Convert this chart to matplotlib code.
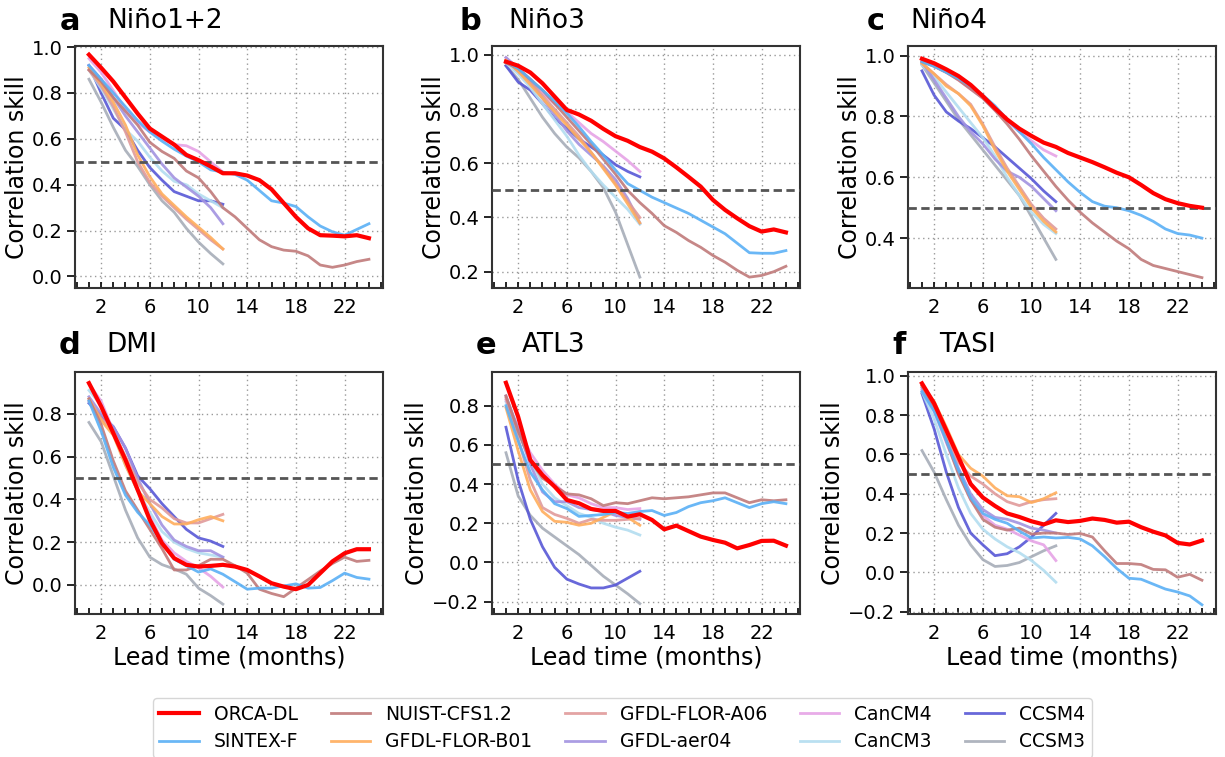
import matplotlib
matplotlib.use('Agg')
import matplotlib.pyplot as plt
import numpy as np

# lead times
lead_long = np.arange(1, 25)
lead_short = np.arange(1, 13)

models = ['ORCA-DL', 'SINTEX-F', 'NUIST-CFS1.2', 'GFDL-FLOR-B01', 'GFDL-FLOR-A06',
          'GFDL-aer04', 'CanCM4', 'CanCM3', 'CCSM4', 'CCSM3']
long_models = ['ORCA-DL', 'SINTEX-F', 'NUIST-CFS1.2']
colors = ['#ff0000', '#5ab0f5', '#c07a7a', '#ffad5c', '#e09a9a',
          '#a293e0', '#e6a3e6', '#b3ddf0', '#5858d6', '#a7adb8']

panel_letters = ['a', 'b', 'c', 'd', 'e', 'f']
panel_names = ['Niño1+2', 'Niño3', 'Niño4', 'DMI', 'ATL3', 'TASI']

# ---- Niño1+2 ----
nino12 = {
    'ORCA-DL': [0.967, 0.91, 0.85, 0.78, 0.71, 0.645, 0.61, 0.575, 0.53, 0.507, 0.48, 0.45,
                0.45, 0.44, 0.42, 0.38, 0.32, 0.26, 0.21, 0.18, 0.178, 0.175, 0.18, 0.167],
    'SINTEX-F': [0.92, 0.86, 0.80, 0.74, 0.68, 0.63, 0.59, 0.555, 0.525, 0.50, 0.465, 0.455,
                 0.445, 0.42, 0.375, 0.33, 0.32, 0.305, 0.26, 0.22, 0.195, 0.18, 0.205, 0.23],
    'NUIST-CFS1.2': [0.90, 0.85, 0.78, 0.72, 0.66, 0.585, 0.545, 0.515, 0.46, 0.43, 0.37, 0.30,
                     0.26, 0.21, 0.16, 0.13, 0.115, 0.11, 0.09, 0.05, 0.04, 0.05, 0.065, 0.075],
    'GFDL-FLOR-B01': [0.91, 0.84, 0.76, 0.66, 0.53, 0.435, 0.36, 0.31, 0.26, 0.215, 0.17, 0.12],
    'GFDL-FLOR-A06': [0.90, 0.83, 0.74, 0.63, 0.50, 0.41, 0.35, 0.30, 0.25, 0.205, 0.16, 0.12],
    'GFDL-aer04': [0.92, 0.86, 0.78, 0.70, 0.63, 0.56, 0.49, 0.43, 0.39, 0.35, 0.30, 0.23],
    'CanCM4': [0.95, 0.89, 0.81, 0.73, 0.67, 0.63, 0.60, 0.575, 0.57, 0.545, 0.50, 0.455],
    'CanCM3': [0.90, 0.82, 0.73, 0.64, 0.59, 0.52, 0.46, 0.415, 0.40, 0.36, 0.33, 0.30],
    'CCSM4': [0.92, 0.80, 0.69, 0.64, 0.55, 0.475, 0.42, 0.37, 0.35, 0.33, 0.33, 0.315],
    'CCSM3': [0.86, 0.76, 0.65, 0.55, 0.48, 0.40, 0.33, 0.28, 0.21, 0.15, 0.10, 0.055],
}

# ---- Niño3 ----
nino3 = {
    'ORCA-DL': [0.975, 0.96, 0.935, 0.895, 0.846, 0.797, 0.78, 0.757, 0.727, 0.70, 0.683, 0.66,
                0.643, 0.618, 0.585, 0.55, 0.514, 0.465, 0.428, 0.397, 0.368, 0.348, 0.356, 0.345],
    'SINTEX-F': [0.975, 0.95, 0.91, 0.87, 0.83, 0.785, 0.735, 0.68, 0.63, 0.575, 0.525, 0.50,
                 0.475, 0.455, 0.435, 0.415, 0.39, 0.365, 0.34, 0.305, 0.27, 0.268, 0.268, 0.278],
    'NUIST-CFS1.2': [0.97, 0.95, 0.91, 0.87, 0.82, 0.77, 0.72, 0.67, 0.615, 0.56, 0.50, 0.455,
                     0.415, 0.37, 0.345, 0.315, 0.29, 0.26, 0.235, 0.205, 0.18, 0.186, 0.20, 0.22],
    'GFDL-FLOR-B01': [0.98, 0.94, 0.89, 0.84, 0.79, 0.74, 0.69, 0.64, 0.58, 0.52, 0.45, 0.38],
    'GFDL-FLOR-A06': [0.98, 0.94, 0.90, 0.85, 0.80, 0.75, 0.70, 0.64, 0.585, 0.525, 0.46, 0.40],
    'GFDL-aer04': [0.99, 0.95, 0.90, 0.84, 0.78, 0.72, 0.67, 0.63, 0.59, 0.54, 0.47, 0.38],
    'CanCM4': [0.99, 0.95, 0.91, 0.86, 0.82, 0.79, 0.75, 0.71, 0.68, 0.645, 0.61, 0.57],
    'CanCM3': [0.97, 0.93, 0.88, 0.82, 0.76, 0.70, 0.63, 0.57, 0.52, 0.475, 0.43, 0.375],
    'CCSM4': [0.96, 0.90, 0.87, 0.82, 0.765, 0.73, 0.69, 0.66, 0.63, 0.595, 0.57, 0.55],
    'CCSM3': [0.96, 0.91, 0.84, 0.77, 0.71, 0.66, 0.62, 0.57, 0.51, 0.42, 0.30, 0.18],
}

# ---- Niño4 ----
nino4 = {
    'ORCA-DL': [0.99, 0.975, 0.955, 0.933, 0.904, 0.867, 0.827, 0.79, 0.76, 0.736, 0.714, 0.70,
                0.68, 0.665, 0.65, 0.633, 0.615, 0.60, 0.575, 0.548, 0.528, 0.515, 0.506, 0.50],
    'SINTEX-F': [0.98, 0.965, 0.945, 0.925, 0.90, 0.87, 0.835, 0.79, 0.75, 0.71, 0.665, 0.625,
                 0.585, 0.55, 0.52, 0.505, 0.50, 0.49, 0.475, 0.455, 0.43, 0.415, 0.41, 0.40],
    'NUIST-CFS1.2': [0.98, 0.965, 0.945, 0.92, 0.89, 0.86, 0.82, 0.775, 0.725, 0.67, 0.62, 0.57,
                     0.525, 0.485, 0.45, 0.42, 0.39, 0.365, 0.33, 0.31, 0.30, 0.29, 0.28, 0.27],
    'GFDL-FLOR-B01': [0.975, 0.94, 0.90, 0.875, 0.835, 0.77, 0.69, 0.62, 0.56, 0.50, 0.455, 0.42],
    'GFDL-FLOR-A06': [0.975, 0.94, 0.905, 0.875, 0.84, 0.775, 0.70, 0.63, 0.57, 0.51, 0.465, 0.43],
    'GFDL-aer04': [0.98, 0.92, 0.86, 0.80, 0.75, 0.71, 0.66, 0.62, 0.60, 0.57, 0.53, 0.49],
    'CanCM4': [0.985, 0.965, 0.945, 0.92, 0.89, 0.86, 0.82, 0.785, 0.75, 0.72, 0.69, 0.67],
    'CanCM3': [0.97, 0.93, 0.88, 0.83, 0.78, 0.73, 0.67, 0.60, 0.54, 0.485, 0.445, 0.415],
    'CCSM4': [0.95, 0.87, 0.815, 0.785, 0.76, 0.73, 0.70, 0.665, 0.63, 0.595, 0.555, 0.52],
    'CCSM3': [0.97, 0.91, 0.85, 0.79, 0.74, 0.69, 0.64, 0.59, 0.54, 0.47, 0.40, 0.33],
}

# ---- DMI ----
dmi = {
    'ORCA-DL': [0.944, 0.835, 0.71, 0.585, 0.445, 0.304, 0.195, 0.125, 0.094, 0.086, 0.089, 0.094,
                0.086, 0.07, 0.04, 0.008, -0.008, -0.02, 0.0, 0.055, 0.11, 0.148, 0.167, 0.167],
    'SINTEX-F': [0.86, 0.72, 0.55, 0.42, 0.34, 0.28, 0.20, 0.12, 0.09, 0.06, 0.075, 0.05,
                 0.015, -0.02, -0.015, -0.015, -0.005, 0.005, -0.015, -0.012, 0.02, 0.055, 0.035, 0.027],
    'NUIST-CFS1.2': [0.87, 0.75, 0.58, 0.44, 0.35, 0.26, 0.17, 0.07, 0.07, 0.09, 0.12, 0.12,
                     0.09, 0.055, -0.02, -0.04, -0.055, -0.015, 0.025, 0.065, 0.10, 0.13, 0.11, 0.115],
    'GFDL-FLOR-B01': [0.87, 0.77, 0.70, 0.56, 0.44, 0.38, 0.32, 0.285, 0.285, 0.305, 0.32, 0.30],
    'GFDL-FLOR-A06': [0.86, 0.78, 0.72, 0.60, 0.48, 0.40, 0.36, 0.31, 0.29, 0.29, 0.31, 0.33],
    'GFDL-aer04': [0.88, 0.80, 0.74, 0.64, 0.50, 0.38, 0.28, 0.21, 0.18, 0.16, 0.16, 0.13],
    'CanCM4': [0.94, 0.86, 0.72, 0.58, 0.45, 0.32, 0.21, 0.15, 0.11, 0.08, 0.04, -0.01],
    'CanCM3': [0.91, 0.84, 0.71, 0.56, 0.44, 0.34, 0.25, 0.20, 0.17, 0.15, 0.14, 0.13],
    'CCSM4': [0.85, 0.79, 0.74, 0.64, 0.51, 0.45, 0.38, 0.32, 0.26, 0.22, 0.205, 0.18],
    'CCSM3': [0.76, 0.67, 0.51, 0.35, 0.22, 0.13, 0.095, 0.075, 0.05, -0.015, -0.05, -0.09],
}

# ---- ATL3 ----
atl3 = {
    'ORCA-DL': [0.917, 0.744, 0.523, 0.446, 0.387, 0.319, 0.302, 0.273, 0.263, 0.263, 0.234, 0.246,
                0.217, 0.169, 0.188, 0.16, 0.132, 0.115, 0.101, 0.072, 0.089, 0.11, 0.111, 0.086],
    'SINTEX-F': [0.80, 0.62, 0.46, 0.37, 0.30, 0.275, 0.235, 0.24, 0.245, 0.255, 0.25, 0.26,
                 0.265, 0.24, 0.255, 0.285, 0.305, 0.315, 0.33, 0.305, 0.28, 0.30, 0.31, 0.30],
    'NUIST-CFS1.2': [0.85, 0.67, 0.52, 0.43, 0.39, 0.35, 0.345, 0.325, 0.29, 0.305, 0.30, 0.315,
                     0.33, 0.325, 0.33, 0.335, 0.345, 0.355, 0.355, 0.33, 0.305, 0.32, 0.315, 0.32],
    'GFDL-FLOR-B01': [0.79, 0.57, 0.37, 0.26, 0.21, 0.205, 0.19, 0.20, 0.23, 0.26, 0.23, 0.19],
    'GFDL-FLOR-A06': [0.84, 0.63, 0.42, 0.28, 0.245, 0.225, 0.20, 0.22, 0.215, 0.215, 0.22, 0.225],
    'GFDL-aer04': [0.85, 0.68, 0.50, 0.36, 0.31, 0.31, 0.28, 0.27, 0.26, 0.24, 0.23, 0.22],
    'CanCM4': [0.83, 0.69, 0.56, 0.47, 0.40, 0.345, 0.33, 0.30, 0.28, 0.28, 0.27, 0.275],
    'CanCM3': [0.82, 0.66, 0.53, 0.40, 0.33, 0.29, 0.25, 0.23, 0.20, 0.18, 0.165, 0.14],
    'CCSM4': [0.69, 0.42, 0.22, 0.08, -0.025, -0.085, -0.11, -0.13, -0.13, -0.115, -0.08, -0.045],
    'CCSM3': [0.56, 0.34, 0.24, 0.175, 0.13, 0.085, 0.04, -0.015, -0.07, -0.115, -0.16, -0.21],
}

# ---- TASI ----
tasi = {
    'ORCA-DL': [0.962, 0.86, 0.723, 0.586, 0.45, 0.381, 0.338, 0.30, 0.282, 0.26, 0.244, 0.265,
                0.256, 0.262, 0.274, 0.267, 0.253, 0.258, 0.23, 0.207, 0.188, 0.15, 0.142, 0.162],
    'SINTEX-F': [0.92, 0.82, 0.67, 0.52, 0.38, 0.30, 0.27, 0.25, 0.21, 0.175, 0.18, 0.175,
                 0.178, 0.17, 0.135, 0.08, 0.02, -0.03, -0.035, -0.06, -0.085, -0.10, -0.12, -0.165],
    'NUIST-CFS1.2': [0.95, 0.84, 0.67, 0.50, 0.37, 0.27, 0.23, 0.215, 0.225, 0.195, 0.20, 0.20,
                     0.193, 0.198, 0.18, 0.11, 0.045, 0.045, 0.04, 0.015, 0.013, -0.025, -0.01, -0.04],
    'GFDL-FLOR-B01': [0.95, 0.87, 0.74, 0.60, 0.53, 0.49, 0.43, 0.39, 0.385, 0.355, 0.375, 0.405],
    'GFDL-FLOR-A06': [0.95, 0.85, 0.70, 0.56, 0.49, 0.45, 0.40, 0.36, 0.34, 0.36, 0.37, 0.375],
    'GFDL-aer04': [0.94, 0.83, 0.68, 0.53, 0.40, 0.32, 0.28, 0.27, 0.25, 0.225, 0.215, 0.20],
    'CanCM4': [0.93, 0.82, 0.66, 0.51, 0.37, 0.29, 0.24, 0.22, 0.19, 0.16, 0.14, 0.06],
    'CanCM3': [0.92, 0.78, 0.60, 0.43, 0.30, 0.22, 0.17, 0.13, 0.10, 0.06, 0.01, -0.05],
    'CCSM4': [0.91, 0.73, 0.51, 0.33, 0.20, 0.14, 0.085, 0.095, 0.13, 0.18, 0.24, 0.30],
    'CCSM3': [0.62, 0.51, 0.37, 0.24, 0.14, 0.065, 0.03, 0.035, 0.05, 0.08, 0.11, 0.135],
}

panel_data = [nino12, nino3, nino4, dmi, atl3, tasi]
y_limits = [(-0.05, 1.005), (0.14, 1.033), (0.236, 1.032),
            (-0.136, 0.996), (-0.263, 0.972), (-0.212, 1.02)]
y_ticks = [np.arange(0, 1.01, 0.2), np.arange(0.2, 1.01, 0.2), np.arange(0.4, 1.01, 0.2),
           np.arange(0, 0.81, 0.2), np.arange(-0.2, 0.81, 0.2), np.arange(-0.2, 1.01, 0.2)]

# axes rectangles in figure fraction
lefts = [0.0612, 0.4016, 0.7412]
bottoms = [0.6196, 0.1889]
width, height = 0.2514, 0.3197

# letter / title positions (x of letter centre, x of title start, y) in pixels
letter_x = [70, 470, 876, 70, 486, 899]
title_x = [107, 508, 910, 106, 522, 939]
title_y = [21, 21, 21, 345, 345, 345]

fig = plt.figure(figsize=(12.25, 7.57), dpi=100)
W, H = 1225, 757

handles = []
for k, data in enumerate(panel_data):
    ax = fig.add_axes([lefts[k % 3], bottoms[k // 3], width, height])
    # draw others first, ORCA-DL on top
    for name, col in list(zip(models, colors))[::-1]:
        vals = data[name]
        x = lead_long if name in long_models else lead_short
        if name == 'ORCA-DL':
            ln, = ax.plot(x, vals, color=col, lw=3, zorder=5, label=name)
        else:
            ln, = ax.plot(x, vals, color=col, lw=2, alpha=0.9, zorder=3, label=name)
        if k == 0:
            handles.append(ln)
    ax.axhline(0.5, color='#555555', lw=2, ls=(0, (3, 1.6)), zorder=4)

    ax.set_xlim(-0.15, 25.15)
    ax.set_ylim(*y_limits[k])
    ax.set_xticks(np.arange(2, 23, 4))
    ax.set_xticks(np.arange(0, 26, 1), minor=True)
    ax.set_yticks(y_ticks[k])
    ax.set_yticklabels([f"{v:.1f}".replace('-', '\u2212') for v in y_ticks[k]])
    ax.tick_params(axis='x', which='both', direction='in', length=4, width=1.2,
                   labelsize=14, pad=7)
    ax.tick_params(axis='y', which='major', direction='out', length=6, width=1.2,
                   labelsize=14, pad=3)
    ax.tick_params(axis='y', which='minor', left=False)
    ax.grid(True, which='major', linestyle=(0, (1, 2.5)), color='#999999', lw=1)
    for sp in ax.spines.values():
        sp.set_linewidth(1.5)
        sp.set_color('#333333')
    ax.set_ylabel('Correlation skill', fontsize=17, labelpad=2)
    if k >= 3:
        ax.set_xlabel('Lead time (months)', fontsize=17, labelpad=2)

    fig.text(letter_x[k] / W, 1 - title_y[k] / H, panel_letters[k], fontsize=22,
             fontweight='bold', ha='center', va='center')
    fig.text(title_x[k] / W, 1 - title_y[k] / H, panel_names[k], fontsize=19,
             ha='left', va='center')

handles = handles[::-1]
fig.legend(handles, models, loc='center', bbox_to_anchor=(0.508, 0.0383), ncol=5,
           fontsize=13.5, frameon=True, fancybox=True, handlelength=2.1,
           columnspacing=1.75, handletextpad=0.8, borderpad=0.35, labelspacing=0.45,
           edgecolor='#cccccc')

fig.savefig('out.png', dpi=100)
